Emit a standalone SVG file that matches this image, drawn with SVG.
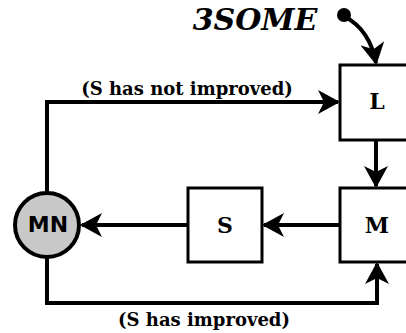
<svg xmlns="http://www.w3.org/2000/svg" width="406" height="333" viewBox="0 0 406 333">
<defs>
<style>
.box{fill:#fff;stroke:#000;stroke-width:3}
.edge{fill:none;stroke:#000;stroke-width:4}
.lbl{font-family:"DejaVu Serif",serif;font-weight:bold;font-size:18px;text-anchor:middle}
.nlbl{font-family:"DejaVu Serif",serif;font-weight:bold;font-size:22px;text-anchor:middle}
</style>
<marker id="arr" viewBox="0 0 22 24" refX="20" refY="12" markerWidth="22" markerHeight="24" markerUnits="userSpaceOnUse" orient="auto">
<path d="M0,0 L22,12 L0,24 L6,12 Z" fill="#000"/>
</marker>
</defs>
<g id="edges">
<path class="edge" d="M47,192 V102 H338" marker-end="url(#arr)"/>
<path class="edge" d="M376,140 V186" marker-end="url(#arr)"/>
<path class="edge" d="M340,225 H264" marker-end="url(#arr)"/>
<path class="edge" d="M188,225 H82" marker-end="url(#arr)"/>
<path class="edge" d="M47,258 V303 H377 V264" marker-end="url(#arr)"/>
<path class="edge" d="M344,16 Q370,30 376,63" marker-end="url(#arr)"/>
<text class="lbl" x="187" y="95">(S has not improved)</text>
<text class="lbl" x="204" y="326">(S has improved)</text>
</g>
<g id="start">
<circle cx="344" cy="15" r="7" fill="#000"/>
<text x="255" y="30" font-family="DejaVu Serif,serif" font-weight="bold" font-style="italic" font-size="30" text-anchor="middle">3SOME</text>
</g>
<g id="L"><rect class="box" x="340" y="65" width="74" height="75"/><text class="nlbl" x="377" y="109">L</text></g>
<g id="M"><rect class="box" x="340" y="188" width="74" height="74"/><text class="nlbl" x="377" y="233">M</text></g>
<g id="S"><rect class="box" x="188" y="188" width="74" height="74"/><text class="nlbl" x="225" y="233">S</text></g>
<g id="MN"><circle cx="47" cy="225" r="32" fill="#c8c8c8" stroke="#000" stroke-width="4"/><text x="48" y="232" font-family="DejaVu Sans,sans-serif" font-weight="bold" font-size="22" text-anchor="middle">MN</text></g>
</svg>
